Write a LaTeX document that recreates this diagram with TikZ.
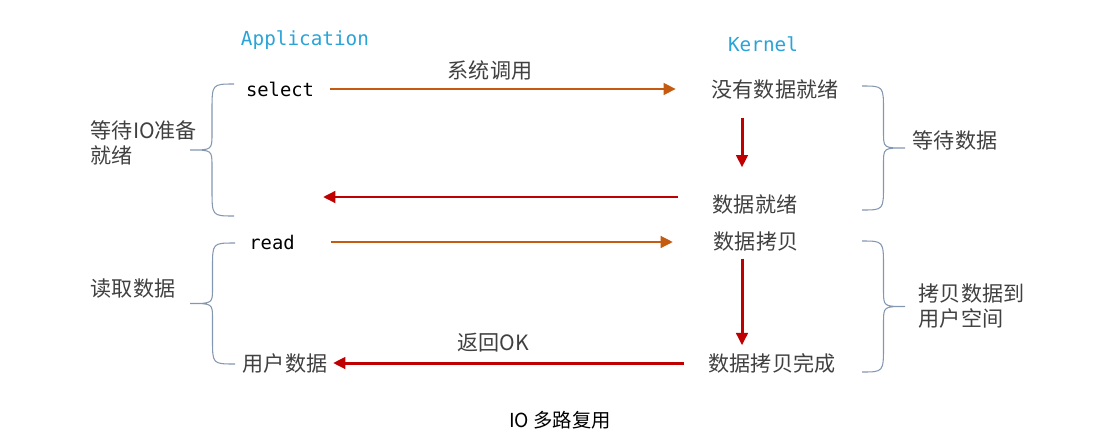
\documentclass[tikz,border=0pt]{standalone}
\usepackage{fontspec}
\setmainfont{Noto Sans CJK SC}
\setmonofont{DejaVu Sans Mono}
\usepackage{tikz}
\usetikzlibrary{arrows.meta}
\usetikzlibrary{calc}

\definecolor{textgrey}{HTML}{404040}
\definecolor{callorange}{HTML}{C55A11}
\definecolor{retred}{HTML}{C00000}
\definecolor{titlecyan}{HTML}{2AA3D8}
\definecolor{bracegrey}{HTML}{8497B0}

\tikzset{
    txt/.style={inner sep=2pt, text=textgrey, font=\fontsize{12}{14.2}\selectfont},
    code/.style={inner sep=2pt, text=black, font=\ttfamily\fontsize{10.7}{13}\selectfont},
    title/.style={inner sep=2pt, text=titlecyan, font=\ttfamily\fontsize{11}{13}\selectfont},
    callarrow/.style={callorange, line width=1.7pt, -{Triangle[length=7pt,width=6.5pt]}},
    retarrow/.style={retred, line width=1.7pt, -{Triangle[length=7pt,width=6.5pt]}},
    curly/.style={bracegrey, line width=0.6pt}
}

\begin{document}
\begin{tikzpicture}
    \useasboundingbox (0,0) rectangle (22.32,8.88);

    % Column titles
    \node[title] (app) at (6.10,8.08) {Application};
    \node[title] (kernel) at (15.26,8.00) {Kernel};

    % Application side
    \node[code] (select) at (5.60,7.10) {select};
    \node[code] (read) at (5.44,4.04) {read};
    \node[txt] (userdata) at (5.70,1.62) {用户数据};

    % Kernel side
    \node[txt] (nodata) at (15.50,7.10) {没有数据就绪};
    \node[txt] (ready) at (15.10,4.80) {数据就绪};
    \node[txt] (copy) at (15.12,4.04) {数据拷贝};
    \node[txt] (copydone) at (15.44,1.62) {数据拷贝完成};
    \coordinate (kx) at (14.84,0);
    \coordinate (back) at (6.46,4.94);

    % Arrow labels
    \node[txt] (syscall) at (9.80,7.48) {系统调用};
    \node[txt] (retok) at (9.86,2.02) {返回OK};

    % Calls and returns
    \draw[callarrow, shorten <=0.25cm, shorten >=0.64cm] (select.east) -- (nodata.west);
    \draw[retarrow, shorten <=0.30cm, shorten >=0.46cm] (nodata.south -| kx) -- (ready.north -| kx);
    \draw[retarrow, shorten <=0.62cm] (back -| ready.west) -- (back);
    \draw[callarrow, shorten <=0.64cm, shorten >=0.74cm] (read.east) -- (copy.west);
    \draw[retarrow, shorten <=0.06cm, shorten >=0.08cm] (copy.south -| kx) -- (copydone.north -| kx);
    \draw[retarrow, shorten <=0.42cm, shorten >=0.04cm] (copydone.west) -- (userdata.east);

    % Braces
    \foreach \xa/\xb/\yt/\yb in {4.68/3.80/7.20/4.56, 4.70/3.80/4.02/1.60,
                                 17.24/18.10/7.16/4.68, 17.24/18.10/4.06/1.44}{
        \pgfmathsetmacro\xm{(\xa+\xb)/2}
        \pgfmathsetmacro\ym{(\yt+\yb)/2}
        \pgfmathsetmacro\h{(\yt-\yb)/2}
        \draw[curly] (\xa,\yt) .. controls (\xm,\yt) .. (\xm,\yt-0.4*\h)
            -- (\xm,\ym+0.25*\h) .. controls (\xm,\ym) .. (\xb,\ym)
            .. controls (\xm,\ym) .. (\xm,\ym-0.25*\h)
            -- (\xm,\yb+0.4*\h) .. controls (\xm,\yb) .. (\xa,\yb);
    }

    % Brace labels
    \node[txt, anchor=west, align=left] (waitio) at (1.74,6.02) {等待IO准备\\就绪};
    \node[txt] (readdata) at (2.66,3.10) {读取数据};
    \node[txt] (waitdata) at (19.10,6.08) {等待数据};
    \node[txt, anchor=west, align=left] (touser) at (18.30,2.76) {拷贝数据到\\用户空间};

    % Caption
    \node[inner sep=2pt, font=\fontsize{11}{13}\selectfont] (caption) at (11.20,0.48) {IO 多路复用};

\end{tikzpicture}
\end{document}
